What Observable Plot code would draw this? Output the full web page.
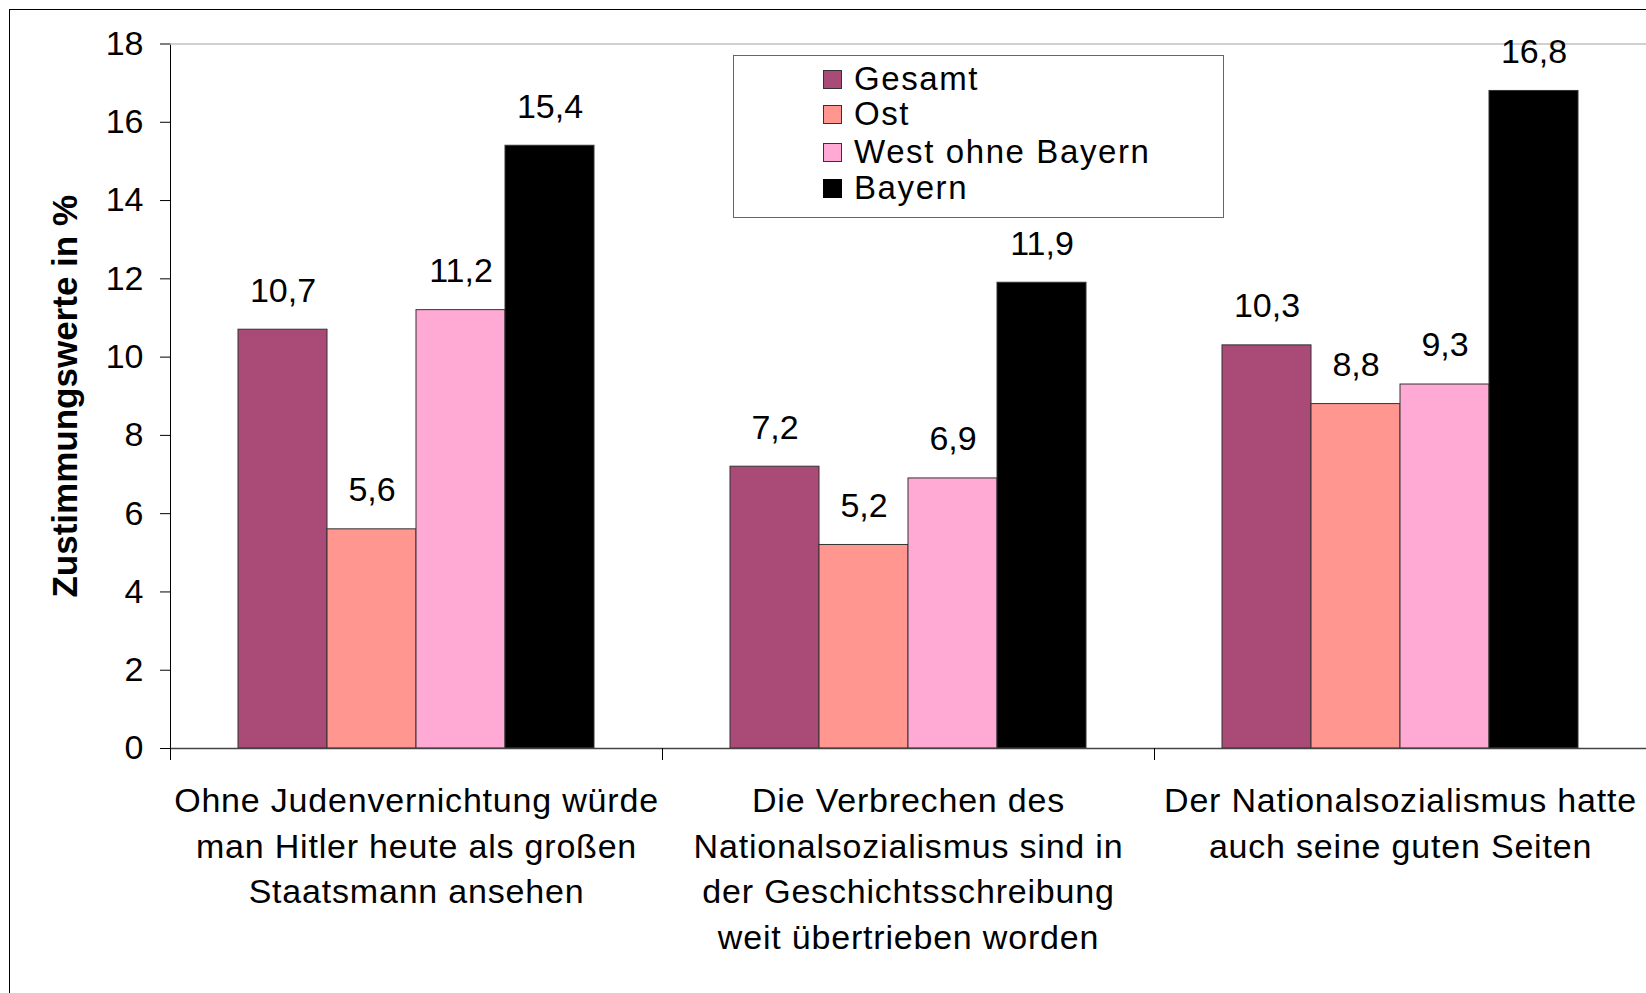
<!DOCTYPE html>
<html>
<head>
<meta charset="utf-8">
<script src="https://cdn.jsdelivr.net/npm/d3@7"></script>
<script src="https://cdn.jsdelivr.net/npm/@observablehq/plot@0.6"></script>
<style>
  html, body { margin: 0; padding: 0; background: #fff; }
  #wrap { position: relative; width: 1646px; height: 993px; overflow: hidden; background: #fff;
          font-family: "Liberation Sans", Arial, sans-serif; }
  #outer { position: absolute; left: 8.5px; top: 8.5px; width: 2000px; height: 2000px;
           border-left: 1.5px solid #000; border-top: 1.5px solid #000; pointer-events: none; }
  #chart { position: absolute; left: 0; top: 0; }
  #legend { position: absolute; left: 733px; top: 55px; width: 489px; height: 161px;
            border: 1.5px solid #666; background: #fff; }
  .item { position: absolute; left: 89px; height: 36px; display: flex; align-items: center;
          font-size: 33px; letter-spacing: 1.6px; color: #000; }
  .sw { width: 17px; height: 17px; border: 1px solid #333; margin-right: 12px; box-sizing: content-box; }
</style>
</head>
<body>
<div id="wrap">
  <div id="chart"></div>
  <div id="outer"></div>
  <div id="legend"></div>
</div>
<script>
// ---- data ----
const categories = [
  "Ohne Judenvernichtung würde\nman Hitler heute als großen\nStaatsmann ansehen",
  "Die Verbrechen des\nNationalsozialismus sind in\nder Geschichtsschreibung\nweit übertrieben worden",
  "Der Nationalsozialismus hatte\nauch seine guten Seiten"
];
const series = ["Gesamt", "Ost", "West ohne Bayern", "Bayern"];
const gesamt = [10.7, 7.2, 10.3];
const ost = [5.6, 5.2, 8.8];
const westOhneBayern = [11.2, 6.9, 9.3];
const bayern = [15.4, 11.9, 16.8];
const yTicks = [0, 2, 4, 6, 8, 10, 12, 14, 16, 18];
const yTitle = "Zustimmungswerte in %";
const colors = ["#A94A77", "#FF9690", "#FFAAD5", "#000000"];

// ---- table ----
const valuesBySeries = [gesamt, ost, westOhneBayern, bayern];
const data = [];
categories.forEach((c, i) => series.forEach((s, j) => data.push({cat: c, series: s, value: valuesBySeries[j][i]})));
const fmt = v => v.toFixed(1).replace(".", ",");

const chart = Plot.plot({
  width: 1646,
  height: 993,
  marginLeft: 170,
  marginRight: 0,
  marginTop: 43.5,
  marginBottom: 245,
  style: {fontFamily: "'Liberation Sans', Arial, sans-serif", fontSize: "34px", color: "#000", background: "transparent", overflow: "visible"},
  fx: {domain: categories, paddingInner: 0, paddingOuter: 0, axis: null, label: null},
  x: {domain: series, paddingInner: 0, paddingOuter: 0.756, axis: null, label: null},
  y: {domain: [0, 18], ticks: yTicks, tickSize: 10, tickPadding: 17, line: true, label: null},
  color: {domain: series, range: colors},
  marks: [
    Plot.ruleY([18], {stroke: "#c0c0c0", strokeWidth: 1.5}),
    Plot.barY(data, {fx: "cat", x: "series", y: "value", fill: "series", stroke: "#333", strokeWidth: 1}),
    Plot.ruleY([0], {stroke: "#444", strokeWidth: 1.5}),
    Plot.frame({anchor: "left", insetTop: 704.5, insetBottom: -11, stroke: "#000", strokeWidth: 1}),
    Plot.text(data, {fx: "cat", x: "series", y: "value", text: d => fmt(d.value), dy: -39, fontSize: 34, fill: "#000"}),
    Plot.text(categories, {fx: d => d, text: d => d, frameAnchor: "bottom", lineAnchor: "top", dy: 31,
      fontSize: 34, lineHeight: 1.344, fill: "#000"}),
    Plot.text([categories[0]], {fx: d => d, text: () => yTitle, frameAnchor: "left", textAnchor: "middle",
      rotate: -90, dx: -105, fontSize: 35, fontWeight: "bold", fill: "#000"})
  ]
});
// slight letter spacing on the multi-line category labels (as in the original rendering)
d3.select(chart).selectAll("text").filter(function() { return this.querySelector("tspan"); })
  .style("letter-spacing", "0.8px");
document.getElementById("chart").appendChild(chart);

// ---- legend ----
const legend = document.getElementById("legend");
const rowTops = [5, 40, 78, 114];
series.forEach((s, i) => {
  const item = document.createElement("div");
  item.className = "item";
  item.style.top = rowTops[i] + "px";
  const sw = document.createElement("span");
  sw.className = "sw";
  sw.style.background = colors[i];
  if (i === 3) sw.style.borderColor = "#000";
  const t = document.createElement("span");
  t.textContent = s;
  item.appendChild(sw);
  item.appendChild(t);
  legend.appendChild(item);
});
</script>
</body>
</html>
